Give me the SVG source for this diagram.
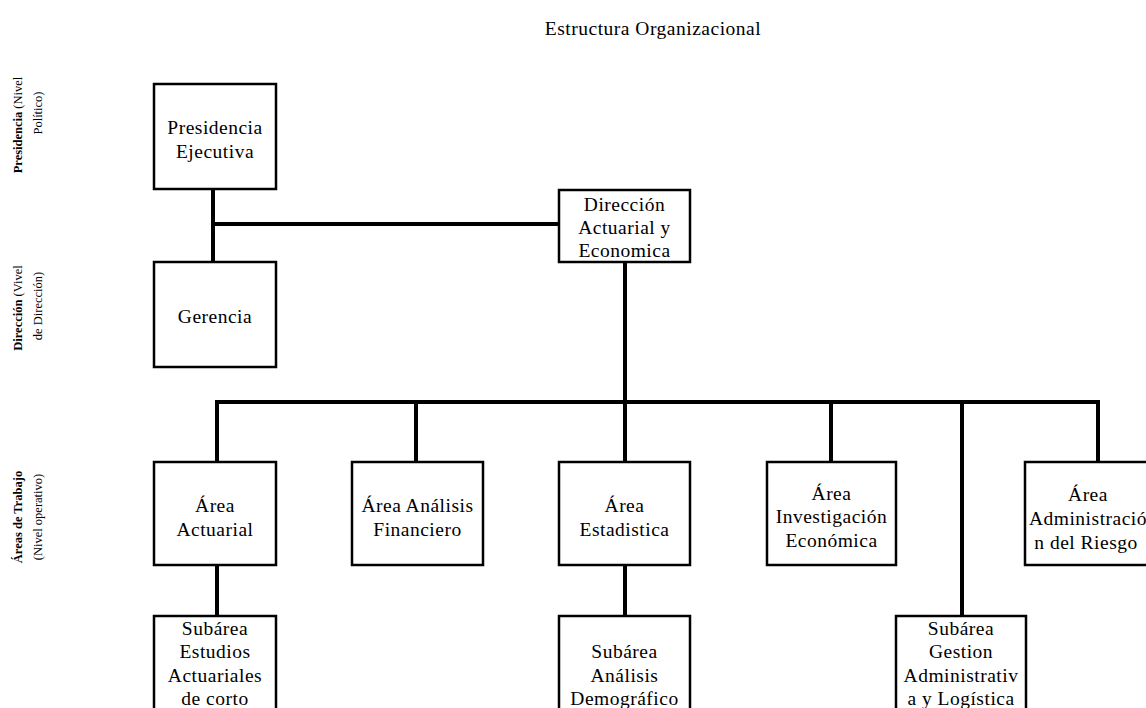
<svg xmlns="http://www.w3.org/2000/svg" width="1146" height="708" viewBox="0 0 1146 708">
<style>
.box{fill:#fff;stroke:#000;stroke-width:2.5}
.t{font-family:"Liberation Serif","Times New Roman",serif;font-size:19.5px;letter-spacing:0.5px;text-anchor:middle;fill:#000}
.s{font-family:"Liberation Serif","Times New Roman",serif;font-size:12.5px;text-anchor:middle;fill:#000}
.b{font-weight:bold}
.c{fill:none;stroke:#000;stroke-width:4}
</style>
<rect width="1146" height="708" fill="#fff"/>
<text class="t" x="653" y="35">Estructura Organizacional</text>
<g id="side-labels">
<text class="s" transform="translate(22,125) rotate(-90)"><tspan class="b">Presidencia</tspan> (Nivel</text>
<text class="s" transform="translate(42,113) rotate(-90)">Político)</text>
<text class="s" transform="translate(22,308) rotate(-90)"><tspan class="b">Dirección</tspan> (Vivel</text>
<text class="s" transform="translate(42,306) rotate(-90)">de Dirección)</text>
<text class="s b" transform="translate(22,517) rotate(-90)">Áreas de Trabajo</text>
<text class="s" transform="translate(42,517) rotate(-90)">(Nivel operativo)</text>
</g>
<g id="connectors">
<path class="c" d="M213,189 V262 M213,224 H559"/>
<path class="c" d="M625,262 V402"/>
<path class="c" d="M217,462 V402 H1098 V462"/>
<path class="c" d="M416,402 V462 M625,402 V462 M831,402 V462 M962,402 V616"/>
<path class="c" d="M217,565 V616 M625,565 V616"/>
</g>
<g id="presidencia"><rect class="box" x="154" y="84" width="122" height="105"/>
<text class="t" x="215" y="134">Presidencia</text><text class="t" x="215" y="158">Ejecutiva</text></g>
<g id="gerencia"><rect class="box" x="154" y="262" width="122" height="105"/>
<text class="t" x="215" y="323">Gerencia</text></g>
<g id="direccion"><rect class="box" x="559" y="190" width="131" height="72"/>
<text class="t" x="624.5" y="211">Dirección</text><text class="t" x="624.5" y="234">Actuarial y</text><text class="t" x="624.5" y="257">Economica</text></g>
<g id="area-actuarial"><rect class="box" x="154" y="462" width="122" height="103"/>
<text class="t" x="215" y="512">Área</text><text class="t" x="215" y="536">Actuarial</text></g>
<g id="area-analisis"><rect class="box" x="352" y="462" width="131" height="103"/>
<text class="t" x="417.5" y="512">Área Análisis</text><text class="t" x="417.5" y="536">Financiero</text></g>
<g id="area-estadistica"><rect class="box" x="559" y="462" width="131" height="103"/>
<text class="t" x="624.5" y="512">Área</text><text class="t" x="624.5" y="536">Estadistica</text></g>
<g id="area-investigacion"><rect class="box" x="767" y="462" width="129" height="103"/>
<text class="t" x="831.5" y="500">Área</text><text class="t" x="831.5" y="523">Investigación</text><text class="t" x="831.5" y="547">Económica</text></g>
<g id="area-riesgo"><rect class="box" x="1025" y="462" width="128" height="103"/>
<text class="t" x="1088" y="501">Área</text><text class="t" x="1088" y="525">Administració</text><text class="t" x="1086" y="549">n del Riesgo</text></g>
<g id="sub-estudios"><rect class="box" x="154" y="616" width="122" height="120"/>
<text class="t" x="215" y="635">Subárea</text><text class="t" x="215" y="658">Estudios</text><text class="t" x="215" y="682">Actuariales</text><text class="t" x="215" y="705">de corto</text></g>
<g id="sub-demografico"><rect class="box" x="559" y="616" width="131" height="120"/>
<text class="t" x="624.5" y="658">Subárea</text><text class="t" x="624.5" y="682">Análisis</text><text class="t" x="624.5" y="705">Demográfico</text></g>
<g id="sub-gestion"><rect class="box" x="896" y="616" width="130" height="120"/>
<text class="t" x="961" y="635">Subárea</text><text class="t" x="961" y="658">Gestion</text><text class="t" x="961" y="682">Administrativ</text><text class="t" x="961" y="705">a y Logística</text></g>
</svg>
